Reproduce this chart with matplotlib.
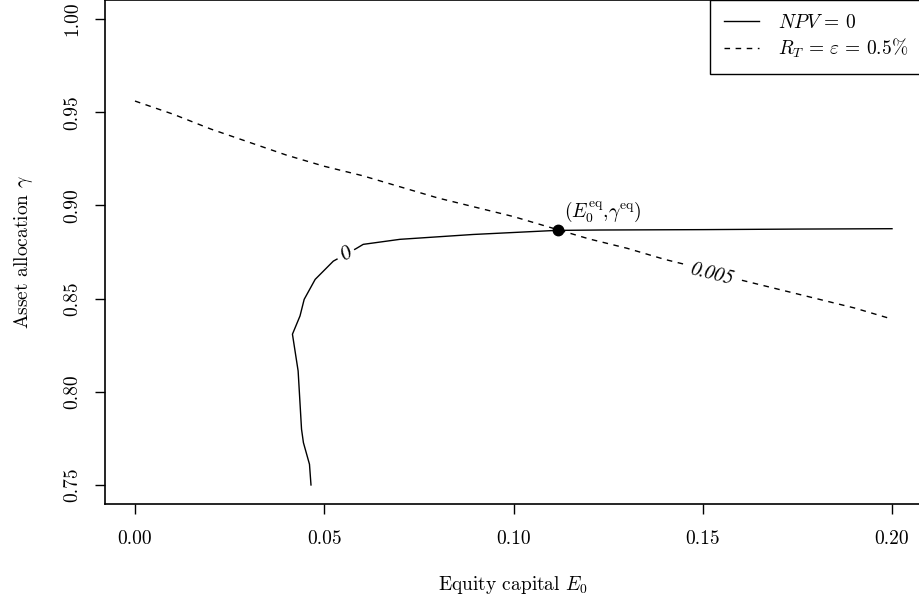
import numpy as np
import matplotlib
matplotlib.use('Agg')
import matplotlib.pyplot as plt

plt.rcParams['font.family'] = 'cmr10'
plt.rcParams['mathtext.fontset'] = 'cm'
plt.rcParams['axes.unicode_minus'] = False
plt.rcParams['axes.formatter.use_mathtext'] = True

# NPV = 0 contour
npv_x = [0.0465, 0.0461, 0.0445, 0.0440, 0.0431, 0.0416, 0.0436, 0.0447, 0.0476,
         0.0524, 0.0584, 0.0603, 0.0700, 0.0893, 0.1114, 0.1229, 0.1500, 0.1750, 0.2000]
npv_y = [0.7500, 0.7611, 0.7727, 0.7799, 0.8112, 0.8309, 0.8407, 0.8496, 0.8603,
         0.8701, 0.8768, 0.8791, 0.8818, 0.8844, 0.8866, 0.8868, 0.8870, 0.8873, 0.8875]

# R_T = eps = 0.5% contour
rt_x = [0.00, 0.01, 0.02, 0.03, 0.04, 0.05, 0.06, 0.07, 0.08, 0.09, 0.10,
        0.11, 0.12, 0.13, 0.14, 0.15, 0.16, 0.17, 0.18, 0.19, 0.20]
rt_y = [0.956, 0.949, 0.941, 0.934, 0.927, 0.921, 0.916, 0.910, 0.904, 0.899, 0.894,
        0.888, 0.882, 0.877, 0.871, 0.866, 0.860, 0.855, 0.850, 0.845, 0.839]

eq_x, eq_y = 0.1118, 0.8866

xticks = [0.00, 0.05, 0.10, 0.15, 0.20]
yticks = [0.75, 0.80, 0.85, 0.90, 0.95, 1.00]

fs = 14

fig = plt.figure(figsize=(9.19, 6.0), dpi=100)
ax = fig.add_axes([104.7 / 919, 1 - 503.6 / 600, (922.3 - 104.7) / 919, (503.6 - 0.4) / 600])

ax.plot(npv_x, npv_y, color='black', lw=1.0, label=r'$NPV\,=\,0$')
ax.plot(rt_x, rt_y, color='black', lw=1.0, dashes=(4, 4),
        label=r'$R_T\,=\,\varepsilon\,=\,0.5\%$')
ax.plot([eq_x], [eq_y], 'o', color='black', ms=7.5, zorder=5)

# contour labels
ax.text(0.0557, 0.8738, '0', rotation=30, ha='center', va='center', fontsize=fs + 1,
        family='STIXGeneral', style='italic',
        bbox=dict(facecolor='white', edgecolor='none', pad=3.0))
ax.text(0.1524, 0.8630, '0.005', rotation=-14, ha='center', va='center', fontsize=fs,
        family='STIXGeneral', style='italic',
        bbox=dict(facecolor='white', edgecolor='none', pad=3.0))

ax.annotate(r'$(E_0^{\rm eq}{,}\gamma^{\rm eq})$', (eq_x, eq_y), xytext=(45, 19),
            textcoords='offset pixels', ha='center', va='center', fontsize=fs)

ax.set_xlim(-0.008, 0.208)
ax.set_ylim(0.74, 1.01)
ax.set_xticks(xticks)
ax.set_yticks(yticks)
ax.set_xticklabels(['%.2f' % v for v in xticks])
ax.set_yticklabels(['%.2f' % v for v in yticks], rotation=90, va='center')
ax.tick_params(direction='out', length=7, width=1.0, labelsize=fs)
ax.tick_params(axis='x', pad=12)
ax.tick_params(axis='y', pad=10)

for s in ax.spines.values():
    s.set_linewidth(1.2)

ax.set_xlabel(r'Equity capital $E_0$', fontsize=fs, labelpad=19)
ax.set_ylabel(r'Asset allocation $\gamma$', fontsize=fs, labelpad=20)

leg = ax.legend(loc='upper right', fontsize=fs, fancybox=False, edgecolor='black',
                framealpha=1, borderaxespad=0, handlelength=1.8, handletextpad=1.0,
                borderpad=0.7, labelspacing=0.25)
leg.get_frame().set_linewidth(1.0)

plt.savefig('out.png', dpi=100)
